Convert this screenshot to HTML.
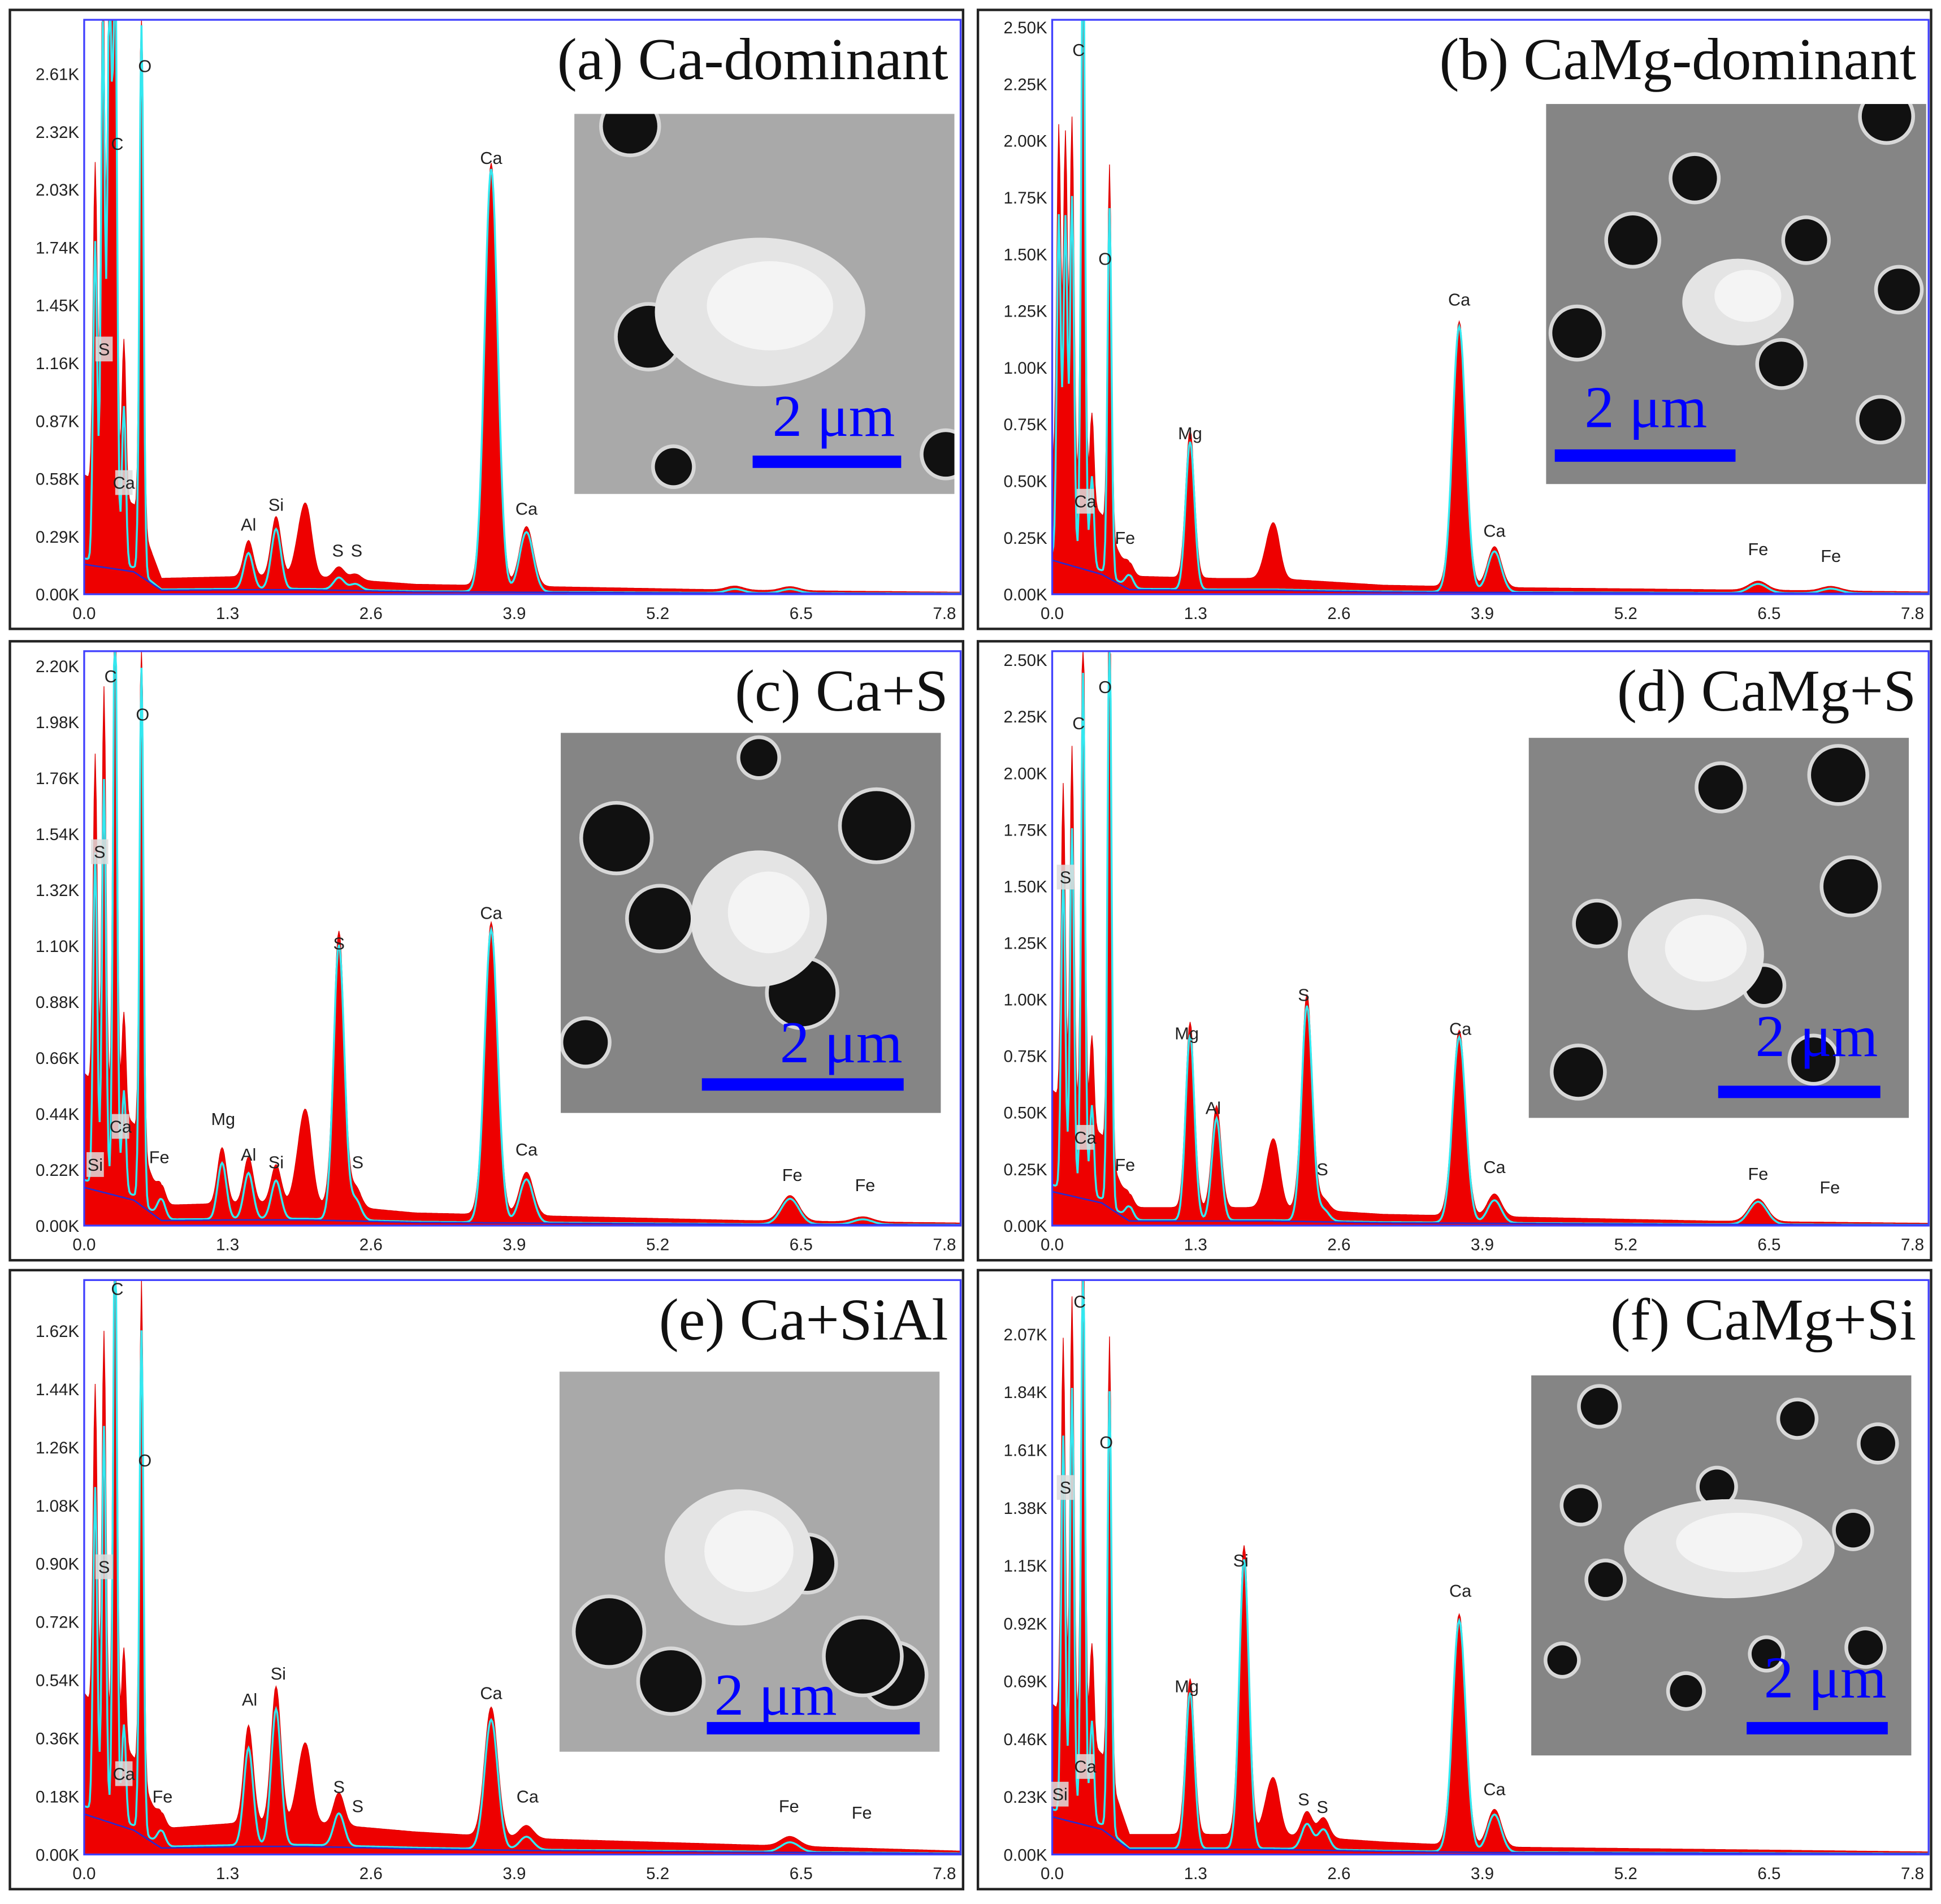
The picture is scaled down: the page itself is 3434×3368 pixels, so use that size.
<!DOCTYPE html>
<html><head><meta charset="utf-8"><style>
html,body{margin:0;padding:0;background:#fff;}
svg{display:block;}
.sans{font-family:"Liberation Sans",sans-serif;}
.serif{font-family:"Liberation Serif",serif;}
</style></head><body>
<svg id="fig" xmlns="http://www.w3.org/2000/svg" width="3434" height="3368" viewBox="0 0 1568 1538" preserveAspectRatio="none">
<rect x="0" y="0" width="1568" height="1538" fill="#fff"/>
</svg>
<script>
// ---- shared tick data ----
const xTickLabels=['0.0','1.3','2.6','3.9','5.2','6.5','7.8'];
const xTickValues=[0,1.3,2.6,3.9,5.2,6.5,7.8];
const bgEnergies=[0,0.45,0.7,1.5,2,3,4,6,8];

// ---- panel (a) ----
const aTicks=['0.00K','0.29K','0.58K','0.87K','1.16K','1.45K','1.74K','2.03K','2.32K','2.61K'];
const aPeakE=[0.1,0.17,0.23,0.28,0.36,0.52,1.49,1.74,2.31,2.46,3.69,4.01,5.9,6.4];
const aPeakH=[1.6,2.7,3.0,3.2,0.8,2.75,0.18,0.3,0.06,0.03,2.12,0.3,0.02,0.02];
const aRedE=[2.02,1.95];
const aRedH=[0.3,0.15];
const aBg=[0.6,0.45,0.08,0.09,0.09,0.05,0.04,0.02,0.01];
const aLabText=['O','C','S','Ca','Al','Si','S','S','Ca','Ca'];
const aLabE=[0.55,0.30,0.18,0.36,1.49,1.74,2.30,2.47,3.69,4.01];
const aLabK=[2.65,2.26,1.23,0.56,0.35,0.45,0.22,0.22,2.19,0.43];
const aLabBox=[0,0,1,1,0,0,0,0,0,0];

// ---- panel (b) ----
const bTicks=['0.00K','0.25K','0.50K','0.75K','1.00K','1.25K','1.50K','1.75K','2.00K','2.25K','2.50K'];
const bPeakE=[0.06,0.12,0.18,0.28,0.36,0.52,0.7,1.25,3.69,4.01,6.4,7.06];
const bPeakH=[1.5,1.5,1.6,2.8,0.4,1.62,0.06,0.65,1.17,0.18,0.04,0.02];
const bRedE=[2.02,1.95];
const bRedH=[0.2,0.1];
const bBg=[0.6,0.35,0.08,0.07,0.07,0.04,0.03,0.02,0.01];
const bLabText=['C','O','Ca','Fe','Mg','Ca','Ca','Fe','Fe'];
const bLabE=[0.24,0.48,0.30,0.66,1.25,3.69,4.01,6.40,7.06];
const bLabK=[2.4,1.48,0.41,0.25,0.71,1.3,0.28,0.2,0.17];
const bLabBox=[0,0,1,0,0,0,0,0,0];

// ---- panel (c) ----
const cTicks=['0.00K','0.22K','0.44K','0.66K','0.88K','1.10K','1.32K','1.54K','1.76K','1.98K','2.20K'];
const cPeakE=[0.1,0.18,0.28,0.36,0.52,0.7,1.25,1.49,1.74,2.31,2.46,3.69,4.01,6.4,7.06];
const cPeakH=[1.3,1.6,2.4,0.4,2.1,0.08,0.22,0.18,0.15,1.08,0.08,1.15,0.17,0.1,0.02];
const cRedE=[2.02,1.95];
const cRedH=[0.3,0.15];
const cBg=[0.6,0.4,0.08,0.09,0.09,0.05,0.04,0.02,0.01];
const cLabText=['C','O','S','Ca','Si','Fe','Mg','Al','Si','S','S','Ca','Ca','Fe','Fe'];
const cLabE=[0.24,0.53,0.14,0.33,0.10,0.68,1.26,1.49,1.74,2.31,2.48,3.69,4.01,6.42,7.08];
const cLabK=[2.16,2.01,1.47,0.39,0.24,0.27,0.42,0.28,0.25,1.11,0.25,1.23,0.30,0.2,0.16];
const cLabBox=[0,0,1,1,1,0,0,0,0,0,0,0,0,0,0];

// ---- panel (d) ----
const dTicks=['0.00K','0.25K','0.50K','0.75K','1.00K','1.25K','1.50K','1.75K','2.00K','2.25K','2.50K'];
const dPeakE=[0.1,0.18,0.28,0.36,0.52,0.7,1.25,1.49,2.31,2.46,3.69,4.01,6.4];
const dPeakH=[1.4,1.6,2.3,0.4,2.6,0.06,0.82,0.45,0.95,0.05,0.82,0.1,0.1];
const dRedE=[2.02,1.95];
const dRedH=[0.25,0.12];
const dBg=[0.6,0.4,0.08,0.08,0.08,0.05,0.04,0.02,0.01];
const dLabText=['C','O','S','Ca','Fe','Mg','Al','S','S','Ca','Ca','Fe','Fe'];
const dLabE=[0.24,0.48,0.12,0.30,0.66,1.22,1.46,2.28,2.45,3.70,4.01,6.40,7.05];
const dLabK=[2.22,2.38,1.54,0.39,0.27,0.85,0.52,1.02,0.25,0.87,0.26,0.23,0.17];
const dLabBox=[0,0,1,1,0,0,0,0,0,0,0,0,0];

// ---- panel (e) ----
const eTicks=['0.00K','0.18K','0.36K','0.54K','0.72K','0.90K','1.08K','1.26K','1.44K','1.62K'];
const ePeakE=[0.1,0.18,0.28,0.36,0.52,0.7,1.49,1.74,2.31,3.69,4.01,6.4];
const ePeakH=[1.0,1.2,1.9,0.3,1.55,0.05,0.3,0.42,0.1,0.4,0.04,0.03];
const eRedE=[2.02,1.95];
const eRedH=[0.2,0.1];
const eBg=[0.5,0.3,0.08,0.1,0.1,0.07,0.05,0.03,0.01];
const eLabText=['C','O','S','Ca','Fe','Al','Si','S','S','Ca','Ca','Fe','Fe'];
const eLabE=[0.30,0.55,0.18,0.36,0.71,1.50,1.76,2.31,2.48,3.69,4.02,6.39,7.05];
const eLabK=[1.75,1.22,0.89,0.25,0.18,0.48,0.56,0.21,0.15,0.5,0.18,0.15,0.13];
const eLabBox=[0,0,1,1,0,0,0,0,0,0,0,0,0];

// ---- panel (f) ----
const fTicks=['0.00K','0.23K','0.46K','0.69K','0.92K','1.15K','1.38K','1.61K','1.84K','2.07K'];
const fPeakE=[0.1,0.18,0.28,0.36,0.52,1.25,1.74,2.31,2.46,3.69,4.01];
const fPeakH=[1.5,1.7,2.3,0.4,1.75,0.62,1.15,0.1,0.08,0.92,0.15];
const fRedE=[2.02,1.95];
const fRedH=[0.18,0.1];
const fBg=[0.6,0.4,0.08,0.08,0.08,0.05,0.03,0.02,0.01];
const fLabText=['C','O','S','Ca','Si','Mg','Si','S','S','Ca','Ca'];
const fLabE=[0.25,0.49,0.12,0.30,0.07,1.22,1.71,2.28,2.45,3.70,4.01];
const fLabK=[2.2,1.64,1.46,0.35,0.24,0.67,1.17,0.22,0.19,1.05,0.26];
const fLabBox=[0,0,1,1,1,0,0,0,0,0,0];

const NS='http://www.w3.org/2000/svg';
const svg=document.getElementById('fig');
function mk(tag,attrs,parent){const e=document.createElementNS(NS,tag);for(const k in attrs)e.setAttribute(k,attrs[k]);(parent||svg).appendChild(e);return e;}

const panels=[
 {id:'a',px:8,py:8,title:'(a) Ca-dominant',ticks:aTicks,tickPx:46.7,pE:aPeakE,pH:aPeakH,rE:aRedE,rH:aRedH,bg:aBg,lt:aLabText,le:aLabE,lk:aLabK,lb:aLabBox,
  inset:[464,92],bar:[608,728,373],umx:624,umy:352},
 {id:'b',px:790,py:8,title:'(b) CaMg-dominant',ticks:bTicks,tickPx:45.8,pE:bPeakE,pH:bPeakH,rE:bRedE,rH:bRedH,bg:bBg,lt:bLabText,le:bLabE,lk:bLabK,lb:bLabBox,
  inset:[1249,84],bar:[1256,1402,368],umx:1280,umy:345},
 {id:'c',px:8,py:518,title:'(c) Ca+S',ticks:cTicks,tickPx:45.2,pE:cPeakE,pH:cPeakH,rE:cRedE,rH:cRedH,bg:cBg,lt:cLabText,le:cLabE,lk:cLabK,lb:cLabBox,
  inset:[453,592],bar:[567,730,876],umx:630,umy:858},
 {id:'d',px:790,py:518,title:'(d) CaMg+S',ticks:dTicks,tickPx:45.7,pE:dPeakE,pH:dPeakH,rE:dRedE,rH:dRedH,bg:dBg,lt:dLabText,le:dLabE,lk:dLabK,lb:dLabBox,
  inset:[1235,596],bar:[1388,1519,882],umx:1418,umy:853},
 {id:'e',px:8,py:1026,title:'(e) Ca+SiAl',ticks:eTicks,tickPx:47,pE:ePeakE,pH:ePeakH,rE:eRedE,rH:eRedH,bg:eBg,lt:eLabText,le:eLabE,lk:eLabK,lb:eLabBox,
  inset:[452,1108],bar:[571,743,1396],umx:577,umy:1385},
 {id:'f',px:790,py:1026,title:'(f) CaMg+Si',ticks:fTicks,tickPx:46.7,pE:fPeakE,pH:fPeakH,rE:fRedE,rH:fRedH,bg:fBg,lt:fLabText,le:fLabE,lk:fLabK,lb:fLabBox,
  inset:[1237,1111],bar:[1411,1525,1396],umx:1425,umy:1371}
];

const holes={a:[[45,10,22],[60,180,25],[300,275,18],[80,285,15]],
 b:[[70,110,20],[25,185,20],[190,210,18],[275,10,20],[285,150,17],[270,255,17],[120,60,18],[210,110,17]],
 c:[[45,85,27],[255,75,28],[80,150,25],[195,210,27],[20,250,18],[160,20,15]],
 d:[[250,30,22],[40,270,20],[55,150,17],[260,120,22],[155,40,18],[230,260,18],[190,200,15]],
 e:[[40,210,27],[90,250,25],[200,155,22],[270,245,25],[245,230,30]],
 f:[[55,25,15],[40,105,14],[150,90,14],[60,165,14],[215,35,14],[280,55,14],[260,125,14],[270,220,14],[125,255,13],[25,230,12],[190,225,12]]};
const blobs={a:[150,160,85,60],b:[155,160,45,35],c:[160,150,55,55],d:[135,175,55,45],e:[145,150,60,55],f:[160,140,85,40]};

function spec(p,E,withRed,bgFrac){
  let v=0;
  for(let i=0;i<p.pE.length;i++){const s=p.pE[i]<0.6?0.018:0.03+0.008*p.pE[i];const d=E-p.pE[i];v+=p.pH[i]*Math.exp(-d*d/(2*s*s));}
  if(withRed){for(let i=0;i<p.rE.length;i++){const d=E-p.rE[i];v+=p.rH[i]*Math.exp(-d*d/(2*0.05*0.05));}}
  let b=0;for(let i=0;i<bgEnergies.length-1;i++){if(E>=bgEnergies[i]&&E<=bgEnergies[i+1]){const t=(E-bgEnergies[i])/(bgEnergies[i+1]-bgEnergies[i]);b=p.bg[i]+(p.bg[i+1]-p.bg[i])*t;}}
  return v+b*bgFrac;
}

panels.forEach(p=>{
  const g=mk('g',{class:'sans'});
  
  
  const x0=p.px+60, y0=p.py+472, kx=89.1, pxK=p.tickPx/parseFloat(p.ticks[1]);
  const xr=p.px+768, yt=p.py+8;
  const X=e=>x0+e*kx, Y=k=>Math.max(yt,y0-k*pxK);
  const frame=mk('rect',{x:p.px,y:p.py,width:770,height:500,fill:'#fff',stroke:'#222','stroke-width':2},g);
  
  
  const clipId='clip'+p.id;
  const cp=mk('clipPath',{id:clipId},g);mk('rect',{x:x0,y:yt,width:xr-x0,height:y0-yt},cp);
  const plot=mk('g',{'clip-path':'url(#'+clipId+')'},g);
  let d='M'+x0+','+y0;const cy=[],by=[];
  const bgOnly={pE:[],pH:[],rE:[],rH:[],bg:p.bg};
  for(let i=0;i<=800;i++){const E=i*0.01;if(X(E)>xr)break;d+=' L'+X(E).toFixed(1)+','+Y(spec(p,E,true,1)).toFixed(1);
    cy.push(X(E).toFixed(1)+','+Y(spec(p,E,false,0.3)).toFixed(1));by.push(X(E).toFixed(1)+','+Y(spec(bgOnly,E,false,0.25)).toFixed(1));}
  d+=' L'+xr+','+y0+' Z';
  const red=mk('path',{d:d,fill:'#ee0000',stroke:'#dd0000','stroke-width':0.6},plot);
  
  
  const cyan=mk('polyline',{points:cy.join(' '),fill:'none',stroke:'#33e8f0','stroke-width':1.6},plot);
  
  
  const blue=mk('polyline',{points:by.join(' '),fill:'none',stroke:'#2a2ad0','stroke-width':1.2},plot);
  
  
  const ax=mk('rect',{x:x0,y:yt,width:xr-x0,height:y0-yt,fill:'none',stroke:'#4040ff','stroke-width':1.5},g);
  
  
  p.ticks.forEach((t,i)=>{const y=y0-i*p.tickPx;
    const tx=mk('text',{x:x0-4,y:y+5,'font-size':13.5,'text-anchor':'end',fill:'#222'},g);tx.textContent=t;
    
    });
  xTickValues.forEach((v,i)=>{const tx=mk('text',{x:X(v),y:y0+20,'font-size':13.5,'text-anchor':'middle',fill:'#222'},g);tx.textContent=xTickLabels[i];
    
    });
  p.lt.forEach((t,i)=>{const x=X(p.le[i]),y=y0-p.lk[i]*pxK;
    if(p.lb[i]){const r=mk('rect',{x:x-7,y:y-10,width:14,height:20,fill:'#ddd',opacity:0.85},g);}
    const tx=mk('text',{x:x,y:y+5,'font-size':14,'text-anchor':'middle',fill:'#222'},g);tx.textContent=t;
    
    });
  const tt=mk('text',{x:p.px+758,y:p.py+56,'font-size':48,'text-anchor':'end',fill:'#111',class:'serif'},g);
  tt.textContent=p.title;
  
  
  const ix=p.inset[0],iy=p.inset[1];
  const ins=mk('g',{},g);
  
  
  const base=(p.id==='a'||p.id==='e')?'#a9a9a9':'#858585';
  mk('rect',{x:ix,y:iy,width:307,height:307,fill:base},ins);
  const icp=mk('clipPath',{id:'ic'+p.id},ins);mk('rect',{x:ix,y:iy,width:307,height:307},icp);
  const ig=mk('g',{'clip-path':'url(#ic'+p.id+')'},ins);
  holes[p.id].forEach(h=>{mk('circle',{cx:ix+h[0],cy:iy+h[1],r:h[2]+3,fill:'#d8d8d8'},ig);mk('circle',{cx:ix+h[0],cy:iy+h[1],r:h[2],fill:'#111'},ig);});
  const b=blobs[p.id];
  mk('ellipse',{cx:ix+b[0],cy:iy+b[1],rx:b[2],ry:b[3],fill:'#e4e4e4'},ig);
  mk('ellipse',{cx:ix+b[0]+8,cy:iy+b[1]-5,rx:b[2]*0.6,ry:b[3]*0.6,fill:'#f4f4f4'},ig);
  const bar=mk('rect',{x:p.bar[0],y:p.bar[2]-5,width:p.bar[1]-p.bar[0],height:10,fill:'#0000ff'},ins);
  
  
  const um=mk('text',{x:p.umx,y:p.umy,'font-size':48,fill:'#0000ff',class:'serif'},ins);
  um.textContent='2 μm';
  
  
});
</script>
</body></html>
